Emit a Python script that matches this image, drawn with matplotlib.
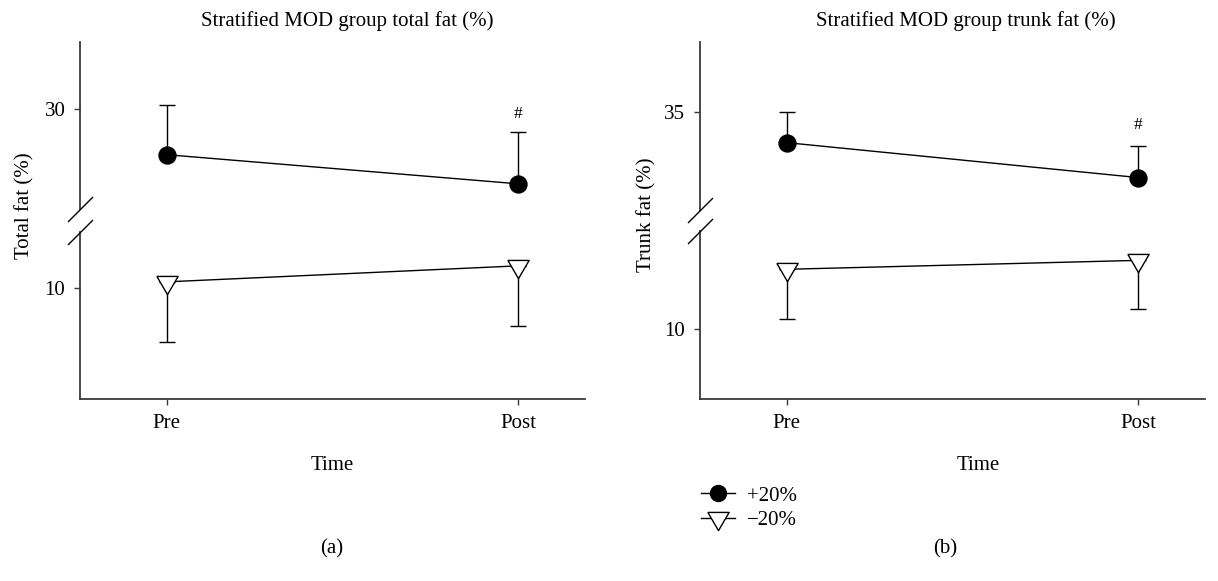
import numpy as np
import matplotlib
matplotlib.use('Agg')
import matplotlib.pyplot as plt
from matplotlib.lines import Line2D

plt.rcParams['font.family'] = ['Liberation Serif', 'DejaVu Serif']
plt.rcParams['font.size'] = 15

# ---------------- data ----------------
times = ['Pre', 'Post']
groups = ['+20%', '\u221220%']

total_plus_mean = [27.93, 26.62]
total_plus_sd = [2.25, 2.34]
total_minus_mean = [10.27, 10.99]
total_minus_sd = [2.70, 2.70]

trunk_plus_mean = [32.79, 30.29]
trunk_plus_sd = [2.21, 2.29]
trunk_minus_mean = [14.29, 14.93]
trunk_minus_sd = [3.57, 3.50]

total_ticks = [10, 30]
trunk_ticks = [10, 35]

# broken-axis ranges: (lower start, lower end, upper start, upper end)
total_range = (5.0, 12.5, 25.5, 33.0)
trunk_range = (5.0, 17.0, 28.0, 40.0)

titles = ['Stratified MOD group total fat (%)', 'Stratified MOD group trunk fat (%)']
ylabels = ['Total fat (%)', 'Trunk fat (%)']
panel_tags = ['(a)', '(b)']
sig_mark = '#'

# ---------------- helpers ----------------
def make_break_scale(lo_top, up_bot, gap):
    def fwd(v):
        v = np.asarray(v, dtype=float)
        return np.where(v <= lo_top, v,
                        np.where(v >= up_bot, v - up_bot + lo_top + gap,
                                 lo_top + (v - lo_top) * gap / (up_bot - lo_top)))

    def inv(u):
        u = np.asarray(u, dtype=float)
        return np.where(u <= lo_top, u,
                        np.where(u >= lo_top + gap, u - lo_top - gap + up_bot,
                                 lo_top + (u - lo_top) * (up_bot - lo_top) / gap))
    return fwd, inv


W, H = 1218, 581
fig = plt.figure(figsize=(W / 100, H / 100), dpi=100)

tri = [(-1, 0.571), (1, 0.571), (0, -1.143), (-1, 0.571)]
slash = [(-1, -1), (1, 1)]
spine_col = '#3a3a3a'
FS = 15

panels = [
    dict(left=80, right=585, rng=total_range, gap=1.06, ticks=total_ticks,
         pm=total_plus_mean, ps=total_plus_sd, mm=total_minus_mean, ms=total_minus_sd,
         title_x=347, xlabel_x=332, tag_x=332, ylab=(25, 206), hash_off=12.5),
    dict(left=700, right=1205, rng=trunk_range, gap=1.57, ticks=trunk_ticks,
         pm=trunk_plus_mean, ps=trunk_plus_sd, mm=trunk_minus_mean, ms=trunk_minus_sd,
         title_x=966, xlabel_x=978, tag_x=945, ylab=(647, 215), hash_off=15),
]

x = np.arange(len(times))
ax_top, ax_bot = 42, 399

for i, p in enumerate(panels):
    ax = fig.add_axes([p['left'] / W, 1 - ax_bot / H,
                       (p['right'] - p['left']) / W, (ax_bot - ax_top) / H])
    lo0, lo1, up0, up1 = p['rng']
    fwd, inv = make_break_scale(lo1, up0, p['gap'])
    ax.set_yscale('function', functions=(fwd, inv))
    ax.set_ylim(lo0, up1)
    ax.set_xlim(-0.247, 1.19)

    # error bars (one-sided)
    ax.errorbar(x, p['pm'], yerr=[np.zeros(len(x)), p['ps']], fmt='none',
                ecolor='black', elinewidth=1, capsize=6, capthick=1, zorder=2)
    ax.errorbar(x, p['mm'], yerr=[p['ms'], np.zeros(len(x))], fmt='none',
                ecolor='black', elinewidth=1, capsize=6, capthick=1, zorder=2)
    # lines + markers
    ax.plot(x, p['pm'], color='black', lw=1, marker='o', ms=12.2,
            mfc='black', mec='black', zorder=3)
    ax.plot(x, p['mm'], color='black', lw=1, marker=tri, ms=17.5,
            mfc='white', mec='black', mew=1, zorder=3)

    # significance mark
    ax.annotate(sig_mark, xy=(x[1], p['pm'][1] + p['ps'][1]),
                xytext=(0, p['hash_off']), textcoords='offset points',
                ha='center', va='center', fontsize=12.5)

    # spines
    for s in ['top', 'right', 'left']:
        ax.spines[s].set_visible(False)
    ax.spines['bottom'].set_color(spine_col)
    ax.spines['bottom'].set_linewidth(1.3)

    yt = ax.get_yaxis_transform()
    ax.plot([0, 0], [lo0, lo1], transform=yt, color=spine_col, lw=1.3, clip_on=False)
    ax.plot([0, 0], [up0, up1], transform=yt, color=spine_col, lw=1.3, clip_on=False)
    ax.plot([0, 0], [lo1, up0], transform=yt, ls='none', marker=slash, ms=18,
            mew=1, color='black', clip_on=False)

    ax.set_yticks(p['ticks'])
    ax.set_yticklabels([str(t) for t in p['ticks']])
    ax.minorticks_off()
    ax.set_xticks(x)
    ax.set_xticklabels(times)
    ax.tick_params(axis='both', direction='out', length=4.5, width=1,
                   color=spine_col, labelsize=FS)
    ax.tick_params(axis='y', pad=6)
    ax.tick_params(axis='x', pad=6)

    ax.set_ylabel(ylabels[i], fontsize=FS, va='center')
    ax.yaxis.set_label_coords((p['ylab'][0] - p['left']) / (p['right'] - p['left']),
                              (ax_bot - p['ylab'][1]) / (ax_bot - ax_top))
    ax.set_xlabel('Time', fontsize=FS, va='center')
    ax.xaxis.set_label_coords((p['xlabel_x'] - p['left']) / (p['right'] - p['left']),
                              -(466 - ax_bot) / (ax_bot - ax_top))

    fig.text(p['title_x'] / W, 1 - 21 / H, titles[i], ha='center', va='center', fontsize=FS)
    fig.text(p['tag_x'] / W, 1 - 549 / H, panel_tags[i], ha='center', va='center', fontsize=FS)

# legend
handles = [
    Line2D([], [], color='black', lw=1, marker='o', ms=11.5, mfc='black'),
    Line2D([], [], color='black', lw=1, marker=tri, ms=17.5, mfc='white', mew=1),
]
fig.legend(handles, groups, loc='upper left', bbox_to_anchor=(701 / W, 1 - 486 / H),
           frameon=False, handlelength=1.65, handletextpad=0.55, labelspacing=0.25,
           borderpad=0, borderaxespad=0, numpoints=1, fontsize=FS)

fig.savefig('out.png', dpi=100)
